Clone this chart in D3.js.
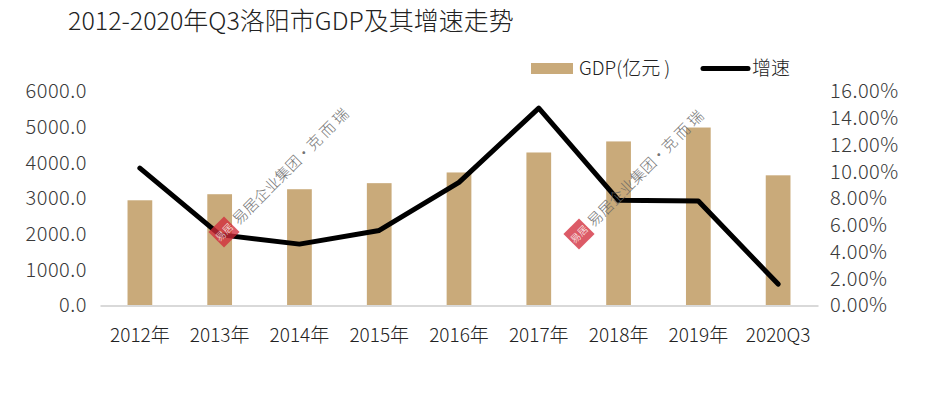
<!DOCTYPE html>
<html>
<head>
<meta charset="utf-8">
<script src="https://cdn.jsdelivr.net/npm/d3@7"></script>
<style>
  body { margin: 0; background: #fff; }
  svg text { font-family: "Noto Sans CJK SC", "Noto Sans", sans-serif; font-weight: 300; }
</style>
</head>
<body>
<div id="chart"></div>
<script>
// chart data
var categories = ["2012年", "2013年", "2014年", "2015年", "2016年", "2017年", "2018年", "2019年", "2020Q3"];
var gdp = [2950, 3120, 3260, 3430, 3730, 4290, 4600, 4990, 3650];
var growth = [0.1027, 0.053, 0.0459, 0.0561, 0.092, 0.1476, 0.0786, 0.0781, 0.016];
var leftTicks = [0, 1000, 2000, 3000, 4000, 5000, 6000];
var rightTicks = [0, 0.02, 0.04, 0.06, 0.08, 0.10, 0.12, 0.14, 0.16];

var W = 934, H = 395;
// note: "top" is taken by window.top, so plot edges get their own names
var plotLeft = 100, plotRight = 818, plotTop = 91.5, plotBottom = 305.5;
var barColor = "#c9aa7a";
var textColor = "#3a3a3a";

var svg = d3.select("#chart").append("svg")
  .attr("width", W)
  .attr("height", H);

// title
svg.append("text")
  .attr("x", 68)
  .attr("y", 30)
  .attr("font-size", 25)
  .attr("fill", "#222")
  .text("2012-2020年Q3洛阳市GDP及其增速走势");

var x = d3.scaleBand()
  .domain(categories)
  .range([plotLeft, plotRight])
  .paddingInner(0.69)
  .paddingOuter(0.345);

var yL = d3.scaleLinear().domain([0, 6000]).range([plotBottom, plotTop]);
var yR = d3.scaleLinear().domain([0, 0.16]).range([plotBottom, plotTop]);

// bars
svg.selectAll("rect.bar")
  .data(gdp)
  .enter()
  .append("rect")
  .attr("class", "bar")
  .attr("x", function (d, i) { return x(categories[i]); })
  .attr("y", function (d) { return yL(d); })
  .attr("width", x.bandwidth())
  .attr("height", function (d) { return plotBottom - yL(d); })
  .attr("fill", barColor);

// left axis
var axL = svg.append("g")
  .attr("transform", "translate(" + 87 + ",0)")
  .call(d3.axisLeft(yL).tickValues(leftTicks).tickFormat(d3.format(".1f")).tickSize(0).tickPadding(0));
axL.select(".domain").remove();
axL.selectAll("text").attr("font-size", 20).attr("letter-spacing", 0.5).attr("fill", textColor).attr("font-family", null);

// right axis
var axR = svg.append("g")
  .attr("transform", "translate(" + 830 + ",0)")
  .call(d3.axisRight(yR).tickValues(rightTicks).tickFormat(d3.format(".2%")).tickSize(0).tickPadding(0));
axR.select(".domain").remove();
axR.selectAll("text").attr("font-size", 20).attr("letter-spacing", 0.5).attr("fill", textColor).attr("font-family", null);

// bottom axis
var axB = svg.append("g")
  .attr("transform", "translate(0," + plotBottom + ")")
  .call(d3.axisBottom(x).tickSize(0).tickPadding(23));
axB.select(".domain").attr("stroke", "#d9d9d9").attr("stroke-width", 2);
axB.selectAll("text").attr("font-size", 19).attr("fill", "#222").attr("font-family", null);

// growth line
var line = d3.line()
  .x(function (d, i) { return x(categories[i]) + x.bandwidth() / 2; })
  .y(function (d) { return yR(d); });

svg.append("path")
  .datum(growth)
  .attr("d", line)
  .attr("fill", "none")
  .attr("stroke", "#000")
  .attr("stroke-width", 5)
  .attr("stroke-linejoin", "round")
  .attr("stroke-linecap", "round");

// legend
var lg = svg.append("g");
lg.append("rect").attr("x", 531).attr("y", 63).attr("width", 42).attr("height", 11).attr("fill", barColor);
lg.append("text").attr("x", 579).attr("y", 75).attr("font-size", 19).attr("fill", "#222").text("GDP(亿元 )");
lg.append("line").attr("x1", 703).attr("x2", 748).attr("y1", 68.5).attr("y2", 68.5)
  .attr("stroke", "#000").attr("stroke-width", 5).attr("stroke-linecap", "round");
lg.append("text").attr("x", 752).attr("y", 75).attr("font-size", 19).attr("fill", "#222").text("增速");

// watermarks
function watermark(cx, cy) {
  var g = svg.append("g")
    .attr("transform", "translate(" + cx + "," + cy + ") rotate(-45)")
    .attr("opacity", 0.9);
  g.append("rect")
    .attr("x", -11).attr("y", -11).attr("width", 22).attr("height", 22)
    .attr("fill", "#d22a3a")
    .attr("opacity", 0.85);
  g.append("text")
    .attr("x", 0).attr("y", 4)
    .attr("text-anchor", "middle")
    .attr("font-size", 10)
    .attr("fill", "#fff")
    .text("易居");
  g.append("text")
    .attr("x", 15).attr("y", 6)
    .attr("font-size", 15)
    .attr("fill", "#666")
    .attr("font-weight", 400)
    .text("易居企业集团·克 而 瑞");
}
watermark(224, 232);
watermark(579, 234);
</script>
</body>
</html>
